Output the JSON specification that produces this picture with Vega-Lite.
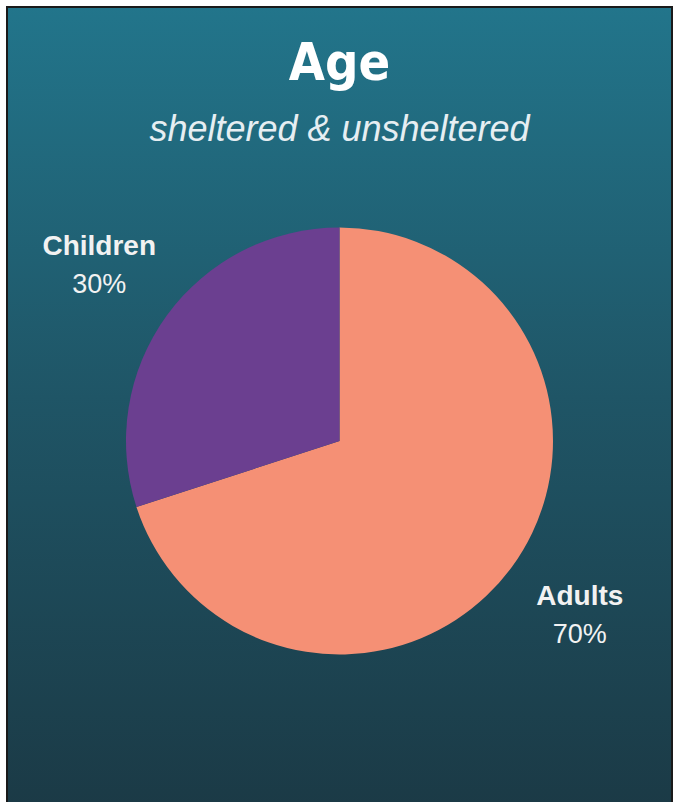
{
  "$schema": "https://vega.github.io/schema/vega-lite/v6.json",
  "autosize": "none",
  "width": 665,
  "height": 868,
  "padding": {"left": 7, "top": 7, "right": 1, "bottom": 0},
  "background": "#ffffff",
  "view": {
    "stroke": "#1a1a1a",
    "strokeWidth": 2,
    "fill": {
      "gradient": "linear",
      "x1": 0, "y1": 0, "x2": 0, "y2": 1,
      "stops": [
        {"offset": 0, "color": "#22758b"},
        {"offset": 0.45, "color": "#1f5566"},
        {"offset": 0.92, "color": "#1b3a46"},
        {"offset": 1, "color": "#1a3540"}
      ]
    }
  },
  "title": {
    "text": "Age",
    "subtitle": "sheltered & unsheltered",
    "orient": "top",
    "anchor": "middle",
    "offset": -142,
    "font": "DejaVu Sans Condensed",
    "fontSize": 52,
    "fontWeight": "bold",
    "color": "#ffffff",
    "subtitleFont": "Liberation Sans",
    "subtitleFontSize": 36,
    "subtitleFontStyle": "italic",
    "subtitleColor": "#e6eef2",
    "subtitlePadding": 22
  },
  "data": {
    "values": [
      {"group": "Adults", "share": 0.7},
      {"group": "Children", "share": 0.3}
    ]
  },
  "encoding": {
    "theta": {"field": "share", "type": "quantitative", "stack": true},
    "order": {"field": "group", "type": "nominal", "sort": "ascending"}
  },
  "layer": [
    {
      "mark": {"type": "arc", "outerRadius": 213.5},
      "encoding": {
        "color": {
          "field": "group",
          "type": "nominal",
          "scale": {"domain": ["Adults", "Children"], "range": ["#f59075", "#6b3f90"]},
          "legend": null
        }
      }
    },
    {
      "mark": {"type": "text", "radius": 297, "dy": -19, "baseline": "middle", "align": "center", "font": "Liberation Sans", "fontWeight": "bold", "fontSize": 28, "color": "#f2f2f2"},
      "encoding": {"text": {"field": "group", "type": "nominal"}}
    },
    {
      "mark": {"type": "text", "radius": 297, "dy": 19, "baseline": "middle", "align": "center", "font": "Liberation Sans", "fontSize": 27, "color": "#f2f2f2"},
      "encoding": {"text": {"field": "share", "type": "quantitative", "format": ".0%"}}
    }
  ]
}
